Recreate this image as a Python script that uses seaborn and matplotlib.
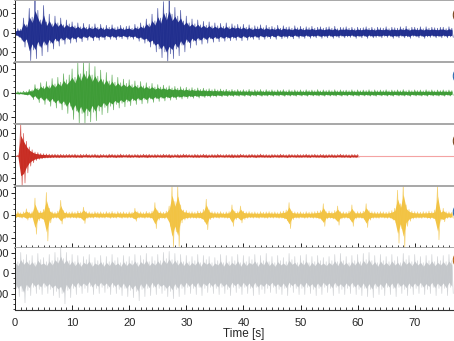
import numpy as np
import pandas as pd
import matplotlib
matplotlib.use("Agg")
import matplotlib.pyplot as plt
from matplotlib.ticker import MultipleLocator
import matplotlib.transforms as mtrans
import seaborn as sns

# ------------- data: upper / lower peak of each trace per 0.5 s -------------
dt = 0.5
blue_up = [25, 40, 35, 150, 80, 250, 160, 350, 230, 130,
           280, 110, 190, 90, 170, 100, 150, 80, 130, 90,
           110, 70, 100, 60, 95, 55, 85, 60, 90, 55,
           85, 50, 75, 55, 80, 50, 60, 75, 50, 65,
           70, 45, 85, 60, 100, 70, 140, 90, 190, 120,
           250, 150, 320, 200, 350, 190, 260, 170, 230, 120,
           170, 100, 140, 90, 130, 80, 115, 75, 110, 70,
           100, 70, 95, 65, 100, 60, 90, 70, 85, 60,
           85, 55, 80, 50, 70, 60, 80, 50, 75, 55,
           65, 50, 75, 45, 70, 55, 60, 45, 70, 50,
           65, 45, 60, 50, 65, 45, 55, 60, 45, 55,
           60, 45, 65, 40, 55, 50, 60, 45, 55, 40,
           55, 45, 50, 60, 45, 55, 40, 55, 50, 45,
           60, 40, 55, 50, 45, 60, 45, 65, 40, 55,
           55, 45, 60, 40, 60, 45, 55, 50, 45, 55,
           55, 40, 60, 45]
blue_low = [-30, -50, -80, -150, -100, -290, -180, -270, -140, -240,
            -130, -200, -110, -170, -90, -140, -80, -120, -70, -110,
            -70, -100, -60, -95, -55, -80, -50, -85, -55, -80,
            -55, -75, -45, -70, -50, -75, -50, -65, -45, -70,
            -50, -70, -55, -90, -70, -110, -90, -150, -120, -200,
            -170, -260, -200, -310, -220, -270, -170, -240, -130, -200,
            -100, -160, -90, -130, -80, -120, -70, -110, -65, -100,
            -65, -95, -60, -90, -60, -85, -60, -80, -55, -85,
            -50, -80, -55, -70, -50, -75, -45, -70, -50, -65,
            -45, -70, -40, -65, -50, -60, -45, -65, -40, -60,
            -45, -60, -40, -60, -45, -55, -40, -60, -45, -55,
            -40, -60, -45, -55, -40, -55, -45, -50, -40, -60,
            -45, -55, -40, -60, -40, -55, -50, -45, -55, -40,
            -50, -40, -60, -45, -55, -40, -55, -45, -60, -40,
            -45, -55, -40, -60, -45, -50, -40, -55, -45, -55,
            -40, -55, -45, -50]
green_up = [8, 12, 8, 15, 12, 30, 25, 70, 40, 85,
            55, 95, 60, 120, 75, 130, 90, 160, 110, 150,
            200, 130, 250, 160, 260, 180, 250, 150, 220, 140,
            190, 110, 170, 100, 150, 90, 130, 85, 115, 80,
            110, 70, 100, 65, 95, 60, 85, 55, 80, 50,
            70, 50, 65, 45, 60, 42, 55, 40, 52, 36,
            48, 34, 45, 32, 42, 30, 40, 28, 36, 27,
            34, 25, 33, 24, 31, 22, 30, 22, 29, 21,
            28, 20, 30, 19, 27, 21, 29, 18, 28, 20,
            27, 19, 26, 21, 28, 18, 27, 20, 26, 19,
            26, 18, 27, 20, 25, 19, 28, 18, 26, 20,
            25, 19, 27, 18, 26, 20, 24, 19, 27, 18,
            26, 19, 25, 20, 27, 18, 26, 19, 25, 20,
            27, 18, 25, 20, 26, 19, 28, 18, 25, 19,
            26, 20, 25, 18, 27, 19, 26, 18, 25, 20,
            26, 19, 25, 20]
green_low = [-6, -10, -8, -14, -20, -15, -55, -35, -80, -50,
             -95, -60, -110, -70, -125, -85, -140, -100, -170, -110,
             -220, -150, -250, -170, -255, -190, -240, -160, -230, -150,
             -180, -120, -165, -110, -140, -95, -125, -85, -115, -75,
             -105, -65, -95, -60, -90, -55, -85, -50, -78, -48,
             -70, -45, -66, -42, -60, -40, -55, -38, -50, -35,
             -46, -33, -44, -30, -42, -29, -38, -28, -36, -26,
             -33, -24, -32, -23, -30, -22, -29, -21, -28, -20,
             -28, -19, -29, -20, -27, -18, -28, -21, -26, -19,
             -27, -20, -26, -18, -28, -19, -26, -20, -27, -18,
             -26, -19, -27, -18, -25, -20, -26, -19, -27, -18,
             -25, -20, -26, -18, -27, -19, -25, -18, -26, -20,
             -27, -18, -25, -19, -26, -20, -27, -18, -25, -19,
             -26, -19, -27, -18, -25, -20, -26, -19, -28, -18,
             -25, -20, -26, -19, -27, -18, -25, -20, -26, -19,
             -27, -18, -25, -19]
red_up = [3, 5, 280, 200, 130, 80, 55, 35, 30, 22,
          20, 18, 16, 15, 16, 14, 15, 13, 14, 15,
          13, 16, 11, 15, 13, 17, 12, 13, 16, 11,
          14, 13, 11, 16, 15, 12, 13, 17, 12, 13,
          15, 11, 14, 13, 12, 16, 13, 15, 11, 14,
          13, 12, 16, 13, 15, 11, 13, 14, 12, 17,
          14, 13, 11, 15, 13, 12, 16, 13, 11, 14,
          12, 16, 13, 11, 14, 13, 15, 12, 13, 16,
          13, 11, 14, 15, 12, 13, 17, 12, 13, 11,
          14, 13, 12, 16, 13, 11, 15, 13, 12, 14,
          12, 13, 16, 12, 13, 15, 11, 14, 13, 12,
          13, 14, 11, 13, 16, 12, 13, 11, 14, 13,
          13]
red_low = [-3, -5, -270, -240, -150, -90, -60, -40, -30, -25,
           -20, -18, -17, -15, -14, -16, -14, -15, -13, -14,
           -12, -15, -13, -16, -11, -13, -14, -12, -13, -16,
           -13, -11, -15, -13, -12, -16, -13, -14, -11, -13,
           -14, -13, -11, -15, -13, -12, -16, -13, -12, -14,
           -11, -14, -13, -12, -16, -13, -11, -15, -13, -12,
           -13, -11, -14, -13, -15, -12, -13, -16, -12, -13,
           -14, -13, -11, -14, -12, -13, -16, -13, -15, -11,
           -12, -14, -13, -11, -16, -13, -12, -14, -13, -15,
           -13, -11, -14, -13, -12, -16, -13, -11, -14, -13,
           -14, -12, -13, -15, -11, -13, -14, -12, -16, -14,
           -12, -13, -15, -11, -13, -14, -12, -16, -12, -14,
           -13]
yellow_up = [22, 30, 20, 28, 55, 25, 30, 150, 40, 35,
             50, 200, 60, 30, 25, 35, 130, 40, 28, 25,
             30, 25, 35, 30, 70, 30, 28, 22, 30, 25,
             28, 22, 30, 25, 32, 22, 30, 25, 28, 22,
             28, 25, 60, 30, 28, 22, 32, 25, 35, 110,
             40, 30, 25, 35, 80, 270, 120, 260, 90, 45,
             40, 28, 30, 25, 35, 30, 50, 140, 45, 30,
             28, 25, 30, 22, 28, 30, 90, 35, 30, 80,
             35, 28, 30, 25, 28, 22, 30, 25, 28, 30,
             25, 28, 22, 30, 35, 45, 110, 35, 28, 25,
             28, 22, 30, 25, 28, 30, 35, 40, 100, 30,
             35, 28, 40, 80, 30, 28, 25, 35, 90, 30,
             30, 28, 35, 100, 40, 30, 28, 25, 30, 28,
             25, 30, 40, 60, 220, 100, 280, 90, 50, 35,
             30, 28, 25, 30, 28, 35, 30, 45, 260, 40,
             60, 30, 28, 25]
yellow_low = [-25, -20, -28, -22, -45, -28, -30, -170, -50, -35,
              -60, -230, -70, -30, -28, -30, -80, -35, -25, -28,
              -25, -30, -28, -35, -75, -30, -25, -28, -22, -28,
              -25, -28, -22, -30, -25, -28, -22, -30, -25, -28,
              -25, -30, -55, -28, -25, -30, -25, -28, -40, -120,
              -45, -30, -35, -28, -100, -290, -150, -280, -70, -45,
              -35, -30, -28, -32, -30, -35, -60, -130, -40, -30,
              -25, -30, -25, -28, -30, -32, -100, -40, -30, -70,
              -40, -30, -25, -28, -25, -30, -25, -28, -30, -25,
              -28, -25, -30, -28, -35, -50, -120, -40, -28, -30,
              -25, -30, -28, -25, -30, -28, -35, -45, -100, -35,
              -30, -35, -45, -90, -35, -30, -28, -40, -100, -35,
              -28, -30, -40, -110, -45, -30, -28, -30, -25, -28,
              -30, -28, -45, -70, -250, -120, -290, -100, -55, -35,
              -30, -28, -30, -25, -30, -35, -30, -50, -220, -45,
              -60, -30, -25, -28]
gray_up = [160, 110, 200, 130, 180, 120, 170, 100, 190, 130,
           150, 110, 180, 120, 200, 150, 250, 140, 200, 120,
           180, 110, 170, 100, 160, 130, 180, 100, 150, 120,
           170, 100, 160, 110, 180, 120, 150, 100, 170, 110,
           160, 120, 180, 100, 170, 130, 190, 110, 160, 120,
           180, 120, 200, 140, 210, 130, 190, 120, 180, 110,
           170, 110, 160, 120, 180, 100, 170, 130, 160, 100,
           150, 120, 180, 100, 170, 110, 160, 120, 180, 100,
           170, 110, 160, 130, 180, 100, 170, 120, 190, 110,
           160, 100, 170, 120, 150, 110, 190, 130, 160, 100,
           170, 120, 180, 100, 160, 110, 170, 120, 150, 110,
           160, 120, 180, 110, 190, 120, 160, 100, 170, 120,
           180, 110, 190, 130, 200, 120, 170, 100, 180, 120,
           160, 110, 180, 120, 160, 100, 190, 130, 170, 110,
           180, 120, 160, 100, 170, 120, 180, 110, 160, 120,
           170, 110, 180, 120]
gray_low = [-150, -230, -180, -290, -170, -220, -140, -200, -160, -210,
            -140, -200, -160, -220, -180, -240, -200, -300, -170, -240,
            -150, -210, -140, -200, -150, -190, -130, -210, -150, -200,
            -140, -190, -150, -210, -140, -200, -160, -220, -150, -230,
            -170, -240, -180, -270, -160, -230, -150, -220, -140, -210,
            -150, -200, -170, -230, -180, -250, -160, -230, -150, -210,
            -140, -200, -150, -210, -140, -220, -150, -190, -140, -200,
            -150, -210, -140, -200, -160, -220, -140, -190, -150, -210,
            -140, -200, -150, -220, -140, -210, -160, -200, -150, -190,
            -140, -200, -160, -210, -150, -220, -140, -190, -150, -210,
            -150, -210, -140, -200, -160, -220, -150, -210, -140, -190,
            -150, -220, -140, -200, -160, -210, -150, -200, -140, -210,
            -160, -220, -150, -230, -160, -240, -150, -210, -160, -220,
            -140, -210, -150, -230, -140, -200, -160, -220, -150, -210,
            -150, -200, -140, -210, -160, -200, -140, -220, -150, -200,
            -150, -220, -140, -200]

uppers = [blue_up, green_up, red_up, yellow_up, gray_up]
lowers = [blue_low, green_low, red_low, yellow_low, gray_low]
panel_labels = ["(a)", "(b)", "(c)", "(d)", "(e)"]
y_ticks = [-200, 0, 200]
x_ticks = [0, 10, 20, 30, 40, 50, 60, 70]
x_label = "Time [s]"

# ---------------- style ----------------
colors = ["#1c2a8c", "#3a9a32", "#c8281e", "#f2c23f", "#c3c6ca"]
label_colors = ["#7a4a22", "#2f6fb2", "#7a4a22", "#2f6fb2", "#b86a1a"]
ylims = [(-305, 337), (-258, 258), (-267, 284), (-293, 258), (-361, 244)]
label_y = [15, 76, 141, 212, 260]
core_share = 0.65   # share of each peak drawn as the dense, solid core

sns.set_theme(style="white")
plt.rcParams['font.family'] = ['Liberation Sans', 'DejaVu Sans']

W, H = 454, 341
fig = plt.figure(figsize=(W / 100, H / 100), dpi=100)
px_per_s = 5.71
x0 = 15
xmax = 80
tops = [0, 62, 124, 186, 248]
ph = 62

for i, (up, low, top) in enumerate(zip(uppers, lowers, tops)):
    ax = fig.add_axes([x0 / W, 1 - (top + ph) / H, xmax * px_per_s / W, ph / H])
    t = np.arange(len(up)) * dt
    # zig-zag trace alternating between the upper and lower peaks
    zz = pd.DataFrame({
        "t": np.ravel(np.column_stack([t, t + dt / 2])),
        "v": np.ravel(np.column_stack([up, low])),
    })
    ax.fill_between(t, np.array(low) * core_share, np.array(up) * core_share,
                    color=colors[i], alpha=0.95, linewidth=0)
    sns.lineplot(data=zz, x="t", y="v", ax=ax, color=colors[i], linewidth=0.5,
                 alpha=0.75, estimator=None, sort=False)
    if i == 2:
        ax.hlines(0, t[-1], xmax, color="#f4a3a3", linewidth=0.8)
    ax.set_xlim(0, xmax)
    ax.set_ylim(*ylims[i])
    ax.set_xlabel("")
    ax.set_ylabel("")
    ax.set_yticks(y_ticks)
    ax.set_yticklabels([str(v) for v in y_ticks], fontsize=8)
    ax.yaxis.set_minor_locator(MultipleLocator(50))
    ax.tick_params(axis="y", which="major", direction="out", length=3, width=0.7,
                   pad=1.5, left=True, colors="#222222")
    ax.tick_params(axis="y", which="minor", direction="out", length=1.8, width=0.6,
                   left=True, color="#222222")
    ax.spines["right"].set_visible(False)
    ax.spines["left"].set_color("#222222")
    ax.spines["left"].set_linewidth(0.7)
    ax.spines["top"].set_color("#a0a0a0")
    ax.spines["top"].set_linewidth(1.3)
    if i < 3:
        ax.spines["bottom"].set_visible(False)
        ax.set_xticks([])
    else:
        ax.spines["bottom"].set_color("#a0a0a0" if i == 3 else "#333333")
        ax.spines["bottom"].set_linewidth(1.3 if i == 3 else 0.8)
        ax.set_xticks(x_ticks)
        ax.xaxis.set_minor_locator(MultipleLocator(1))
        ax.tick_params(axis="x", which="major", direction="in", length=3.5, width=0.7,
                       bottom=True, color="#222222", pad=6)
        ax.tick_params(axis="x", which="minor", direction="in", length=2, width=0.6,
                       bottom=True, color="#222222")
        if i == 3:
            ax.set_xticklabels([])
        else:
            ax.set_xticklabels([str(v) for v in x_ticks], fontsize=8)
            ax.set_xlabel(x_label, fontsize=8.5, labelpad=0)
    if i == 4:
        ax.spines["top"].set_visible(False)
    tr = mtrans.blended_transform_factory(ax.transData, fig.transFigure)
    ax.text((451 - x0) / px_per_s, 1 - label_y[i] / H, panel_labels[i],
            color=label_colors[i], fontsize=9, va="center", ha="left", transform=tr)

fig.savefig("out.png", dpi=100)
